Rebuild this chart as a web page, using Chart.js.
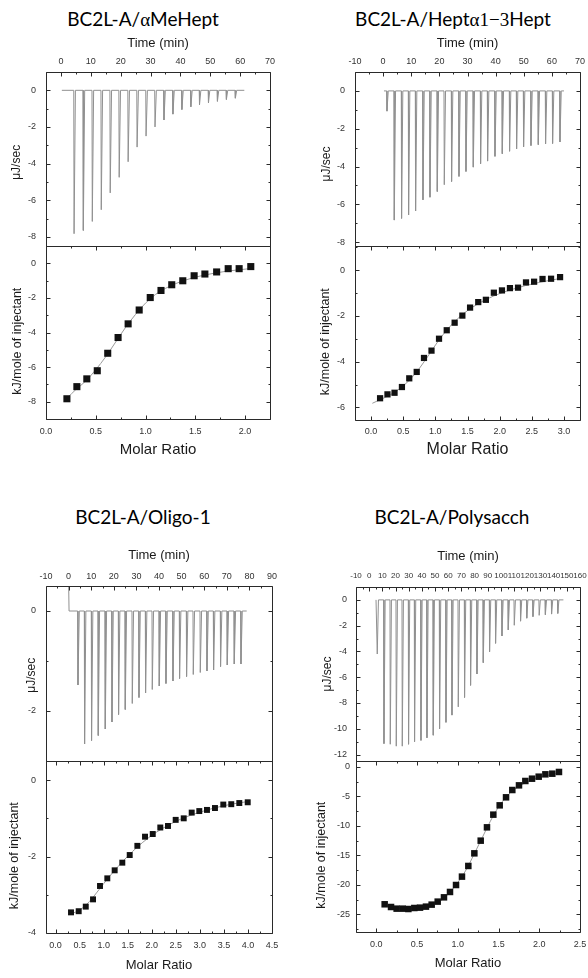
<!DOCTYPE html>
<html><head><meta charset="utf-8">
<script src="https://cdn.jsdelivr.net/npm/chart.js@4.4.1/dist/chart.umd.min.js"></script>
<style>
html,body{margin:0;padding:0;background:#fff;width:588px;height:978px;overflow:hidden;position:relative;}
canvas{position:absolute;}
.ttl{position:absolute;font-family:Lato,'Open Sans',sans-serif;font-size:19px;line-height:19px;color:#000;white-space:nowrap;transform:translateX(-50%);}
.ttl .g{font-family:'Liberation Serif','DejaVu Serif',serif;}
</style></head><body>
<div class="ttl" style="left:143px;top:8.5px">BC2L-A/<span class="g">α</span>MeHept</div>
<div class="ttl" style="left:453px;top:8.5px">BC2L-A/Hept<span class="g">α1−3</span>Hept</div>
<div class="ttl" style="left:143px;top:506.5px">BC2L-A/Oligo-1</div>
<div class="ttl" style="left:452px;top:506.5px">BC2L-A/Polysacch</div>
<script>
// ---------------- DATA ----------------
// Panel 1: BC2L-A / aMeHept
const p1TimeTicks = [0,10,20,30,40,50,60,70];
const p1HeatTicks = [0,-2,-4,-6,-8];
const p1RatioTicks = [0,0.5,1,1.5,2];
const p1EnthTicks = [0,-2,-4,-6,-8];
const p1Baseline = [0.3, 61.4];
const p1InjTime = [4.3,7.4,10.4,13.4,16.4,19.4,22.4,25.4,28.4,31.4,34.4,37.4,40.4,43.4,46.3,49.3,52.3,55.3,58.3];
const p1InjPeak = [-7.83,-7.65,-7.16,-6.52,-5.6,-4.75,-3.9,-3.1,-2.5,-2.0,-1.62,-1.3,-1.05,-0.9,-0.8,-0.68,-0.6,-0.5,-0.43];
const p1Ratio = [0.21,0.31,0.41,0.515,0.62,0.724,0.825,0.936,1.047,1.155,1.263,1.374,1.488,1.596,1.714,1.83,1.94,2.057];
const p1Enth = [-7.83,-7.13,-6.68,-6.21,-5.2,-4.29,-3.5,-2.7,-1.98,-1.57,-1.24,-1.01,-0.72,-0.62,-0.5,-0.31,-0.31,-0.19];
const p1FitRatio = [0.21,0.3,0.4,0.5,0.6,0.7,0.8,0.9,1.0,1.1,1.2,1.3,1.4,1.5,1.6,1.7,1.8,1.9,2.06];
const p1FitEnth = [-7.8,-7.3,-6.8,-6.15,-5.4,-4.55,-3.7,-2.95,-2.3,-1.8,-1.45,-1.18,-0.97,-0.8,-0.67,-0.56,-0.47,-0.4,-0.3];

// Panel 2: BC2L-A / Hepta1-3Hept
const p2TimeTicks = [-10,0,10,20,30,40,50,60,70];
const p2HeatTicks = [0,-2,-4,-6,-8];
const p2RatioTicks = [0,0.5,1,1.5,2,2.5,3];
const p2EnthTicks = [0,-2,-4,-6];
const p2Baseline = [0.3, 64.3];
const p2InjTime = [1.27,3.87,6.46,8.95,11.44,14.07,16.56,19.16,21.64,24.24,26.87,29.36,31.96,34.55,37.04,39.67,42.27,44.86,47.35,49.84,52.47,55.07,57.66,60.15,62.78];
const p2InjPeak = [-1.07,-6.83,-6.74,-6.56,-6.35,-5.76,-5.62,-5.32,-4.96,-4.79,-4.52,-4.26,-4.03,-3.85,-3.71,-3.46,-3.32,-3.19,-3.07,-2.96,-2.89,-2.84,-2.80,-2.78,-2.70];
const p2Ratio = [0.14,0.255,0.365,0.48,0.594,0.71,0.823,0.94,1.057,1.177,1.30,1.42,1.54,1.667,1.786,1.91,2.036,2.16,2.286,2.41,2.536,2.667,2.80,2.94];
const p2Enth = [-5.6,-5.43,-5.36,-5.11,-4.73,-4.45,-3.84,-3.52,-3.0,-2.63,-2.3,-1.99,-1.64,-1.40,-1.30,-0.99,-0.89,-0.79,-0.77,-0.54,-0.51,-0.39,-0.38,-0.31];
const p2FitRatio = [0.02,0.15,0.3,0.45,0.6,0.75,0.9,1.05,1.2,1.35,1.5,1.65,1.8,2.0,2.2,2.4,2.6,2.8,2.94];
const p2FitEnth = [-5.82,-5.65,-5.45,-5.17,-4.8,-4.3,-3.7,-3.08,-2.55,-2.12,-1.77,-1.5,-1.27,-1.03,-0.84,-0.68,-0.55,-0.44,-0.37];

// Panel 3: BC2L-A / Oligo-1
const p3TimeTicks = [-10,0,10,20,30,40,50,60,70,80,90];
const p3HeatTicks = [0,-2];
const p3RatioTicks = [0,0.5,1,1.5,2,2.5,3,3.5,4,4.5];
const p3EnthTicks = [0,-2,-4];
const p3Lead = [0, 0.6];
const p3Baseline = [0.2, 78.8];
const p3InjTime = [4.03,6.95,10.04,13.01,16.11,19.07,21.99,24.96,28.05,31.02,33.94,36.9,40.0,42.96,46.06,48.98,52.08,55.04,58.14,61.11,64.03,67.12,70.09,73.19,76.15];
const p3InjPeak = [-1.48,-2.66,-2.59,-2.49,-2.36,-2.22,-2.07,-1.97,-1.85,-1.73,-1.64,-1.57,-1.5,-1.45,-1.4,-1.35,-1.31,-1.27,-1.23,-1.2,-1.18,-1.11,-1.08,-1.06,-1.06];
const p3Ratio = [0.32,0.48,0.627,0.778,0.923,1.075,1.228,1.387,1.541,1.7,1.859,2.02,2.177,2.337,2.497,2.664,2.83,2.988,3.148,3.314,3.487,3.653,3.82,3.995];
const p3Enth = [-3.46,-3.43,-3.31,-3.12,-2.77,-2.57,-2.36,-2.16,-1.96,-1.72,-1.48,-1.41,-1.24,-1.2,-1.04,-1.0,-0.85,-0.81,-0.78,-0.73,-0.64,-0.63,-0.6,-0.58];
const p3FitRatio = [0.32,0.5,0.7,0.9,1.1,1.3,1.5,1.7,1.9,2.1,2.3,2.5,2.7,2.9,3.1,3.3,3.5,3.7,4.0];
const p3FitEnth = [-3.5,-3.4,-3.18,-2.87,-2.55,-2.26,-1.99,-1.75,-1.54,-1.36,-1.21,-1.08,-0.97,-0.88,-0.8,-0.73,-0.67,-0.62,-0.56];

// Panel 4: BC2L-A / Polysacch
const p4TimeTicks = [-10,0,10,20,30,40,50,60,70,80,90,100,110,120,130,140,150,160];
const p4HeatTicks = [0,-2,-4,-6,-8,-10,-12];
const p4RatioTicks = [0,0.5,1,1.5,2,2.5];
const p4EnthTicks = [0,-5,-10,-15,-20,-25];
const p4Baseline = [5.2, 147.4];
const p4InjTime = [5.93,11.02,15.8,20.35,24.91,29.69,34.24,39.1,43.66,48.44,53.22,58.08,62.63,67.41,72.19,76.75,81.6,86.39,91.17,95.72,100.58,105.36,109.91,114.69,119.4,124.1,128.81,133.52,138.22,142.93];
const p4InjPeak = [-4.2,-11.15,-11.2,-11.35,-11.35,-11.2,-11.0,-10.9,-10.7,-10.5,-10.0,-9.5,-8.94,-8.3,-7.57,-6.63,-5.75,-4.87,-4.02,-3.37,-2.8,-2.33,-1.97,-1.65,-1.42,-1.3,-1.2,-1.15,-1.1,-1.05];
const p4Ratio = [0.102,0.18,0.249,0.323,0.393,0.466,0.536,0.609,0.679,0.753,0.83,0.904,0.978,1.051,1.129,1.203,1.281,1.358,1.436,1.514,1.592,1.669,1.751,1.829,1.911,1.993,2.075,2.16,2.242];
const p4Enth = [-23.3,-23.76,-24.04,-24.04,-24.1,-23.93,-23.87,-23.7,-23.36,-22.85,-22.12,-21.21,-20.03,-18.61,-16.8,-14.66,-12.51,-10.25,-8.1,-6.52,-5.16,-3.92,-3.13,-2.39,-2.0,-1.66,-1.26,-1.15,-0.86];
const p4FitRatio = [0.1,0.2,0.3,0.4,0.5,0.6,0.7,0.8,0.9,1.0,1.1,1.2,1.3,1.4,1.5,1.6,1.7,1.8,1.9,2.0,2.1,2.24];
const p4FitEnth = [-23.4,-23.8,-24.0,-24.05,-23.9,-23.7,-23.3,-22.6,-21.3,-19.6,-17.5,-14.8,-12.0,-9.2,-6.8,-5.0,-3.75,-2.9,-2.25,-1.8,-1.45,-1.05];

// ---------------- HELPERS ----------------
const FONT = "'Liberation Sans', Arial, sans-serif";
const pts = (xs, ys) => xs.map((x, i) => ({x: x, y: ys[i]}));
function thermogram(base, times, peaks, down, up, lead) {
  const out = [];
  if (lead) out.push({x: lead[0], y: lead[1]});
  out.push({x: base[0], y: 0});
  times.forEach((t, i) => {
    out.push({x: t, y: 0}, {x: t + down, y: peaks[i]}, {x: t + up, y: 0});
  });
  out.push({x: base[1], y: 0});
  return out;
}
const rawSet = (data) => ({type:'line', data, borderColor:'#909090', borderWidth:1, pointRadius:0, tension:0, order:1});
const dotSet = (data, r) => ({type:'line', data, showLine:false, pointStyle:'rect', pointRadius:r, pointBackgroundColor:'#111', pointBorderWidth:0, order:0});
const fitSet = (data) => ({type:'line', data, borderColor:'#9a9a9a', borderWidth:1, pointRadius:0, cubicInterpolationMode:'monotone', order:1});

const framePlugin = {
  id: 'itcFrame',
  afterDatasetsDraw(chart, args, o) {
    const {ctx, chartArea: a} = chart;
    const xs = chart.scales.x, ys = chart.scales.y;
    const L = Math.round(a.left) + 0.5, R = Math.round(a.right) + 0.5;
    const T = Math.round(a.top) + 0.5, B = Math.round(a.bottom) + 0.5;
    ctx.save();
    ctx.strokeStyle = '#2a2a2a';
    ctx.lineWidth = 1;
    ctx.beginPath();
    ctx.rect(L, T, R - L, B - T);
    const seg = (x1, y1, x2, y2) => { ctx.moveTo(x1, y1); ctx.lineTo(x2, y2); };
    const axis = (sc, step, horiz) => {
      const majors = sc.ticks.map(t => t.value);
      const i0 = Math.ceil(sc.min / step - 1e-6), i1 = Math.floor(sc.max / step + 1e-6);
      for (let i = i0; i <= i1; i++) {
        const v = i * step;
        const isMaj = majors.some(m => Math.abs(m - v) < step * 1e-3);
        const len = isMaj ? 4 : 2;
        const p = Math.round(sc.getPixelForValue(v)) + 0.5;
        if (horiz) {
          if (o.top) seg(p, T, p, T + len);
          if (o.bottom) seg(p, B, p, B - len);
        } else {
          seg(L, p, L + len, p);
          seg(R, p, R - len, p);
        }
      }
    };
    axis(xs, o.xMinor, true);
    axis(ys, o.yMinor, false);
    ctx.stroke();
    ctx.restore();
  }
};

function makePlot(s) {
  const cv = document.createElement('canvas');
  const w = s.box[2] - s.box[0], h = s.box[3] - s.box[1];
  cv.width = w; cv.height = h;
  cv.style.left = s.box[0] + 'px'; cv.style.top = s.box[1] + 'px';
  cv.style.width = w + 'px'; cv.style.height = h + 'px';
  document.body.appendChild(cv);
  const [L, T, R, B] = s.area;
  const xTop = s.xPos === 'top';
  const yW = L - s.box[0];
  const xH = xTop ? T - s.box[1] : s.box[3] - B;
  const xLh = s.xTitleSize * 1.2, yLh = s.yTitleSize * 1.2;
  const xTitlePad = xTop ? (s.xTitleY - s.box[1] - xLh / 2) : (s.box[3] - s.xTitleY - xLh / 2);
  const yTitlePad = s.yTitleX - s.box[0] - yLh / 2;
  return new Chart(cv, {
    type: 'line',
    data: {datasets: s.datasets},
    options: {
      responsive: false, animation: false, events: [],
      layout: {padding: {left: 0, right: s.box[2] - R, top: xTop ? 0 : T - s.box[1], bottom: xTop ? s.box[3] - B : 0}},
      plugins: {legend: {display: false}, tooltip: {enabled: false},
        itcFrame: {xMinor: s.xMinor, yMinor: s.yMinor, top: true, bottom: !xTop}},
      scales: {
        x: {type: 'linear', position: s.xPos, min: s.xr[0], max: s.xr[1], bounds: 'data',
          afterBuildTicks: sc => { sc.ticks = s.xTicks.map(v => ({value: v})); },
          afterFit: sc => { sc.height = xH; },
          grid: {display: false, drawTicks: false}, border: {display: false},
          ticks: {autoSkip: false, maxRotation: 0, minRotation: 0, padding: s.xTickPad, color: '#333',
            font: {family: FONT, size: s.xTickSize}, callback: s.xFmt},
          title: {display: true, text: s.xTitle, color: '#1a1a1a', font: {family: FONT, size: s.xTitleSize},
            padding: xTop ? {top: xTitlePad, bottom: 0} : {top: 0, bottom: xTitlePad}}},
        y: {type: 'linear', position: 'left', min: s.yr[0], max: s.yr[1], bounds: 'data',
          afterBuildTicks: sc => { sc.ticks = s.yTicks.map(v => ({value: v})); },
          afterFit: sc => { sc.width = yW; },
          grid: {display: false, drawTicks: false}, border: {display: false},
          ticks: {autoSkip: false, padding: s.yTickPad, color: '#333',
            font: {family: FONT, size: s.yTickSize}, callback: v => String(v)},
          title: {display: true, text: s.yTitle, color: '#1a1a1a', font: {family: FONT, size: s.yTitleSize},
            padding: {top: yTitlePad, bottom: 0}}}
      }
    },
    plugins: [framePlugin]
  });
}
const intFmt = v => String(v);
const decFmt = v => v.toFixed(1);
const UJ = 'μJ/sec', KJ = 'kJ/mole of injectant';

// ---------------- PLOTS ----------------
makePlot({box:[0,28,294,264], area:[46,72,270,246], xPos:'top', xr:[-5,70], yr:[-8.5,1],
  xTicks:p1TimeTicks, yTicks:p1HeatTicks, xMinor:5, yMinor:1, xFmt:intFmt,
  xTitle:'Time (min)', xTitleSize:13, xTitleY:43, xTickPad:5, xTickSize:9,
  yTitle:UJ + '  ', yTitleSize:12, yTitleX:17, yTickPad:10, yTickSize:9,
  datasets:[rawSet(thermogram(p1Baseline, p1InjTime, p1InjPeak, 0.1, 0.55))]});
makePlot({box:[0,228,294,461], area:[46,246,270,419], xPos:'bottom', xr:[0,2.25], yr:[-9,1],
  xTicks:p1RatioTicks, yTicks:p1EnthTicks, xMinor:0.25, yMinor:1, xFmt:decFmt,
  xTitle:'Molar Ratio', xTitleSize:15, xTitleY:450, xTickPad:7.5, xTickSize:9,
  yTitle:KJ + '     ', yTitleSize:12.5, yTitleX:17.5, yTickPad:10, yTickSize:9,
  datasets:[dotSet(pts(p1Ratio, p1Enth), 5), fitSet(pts(p1FitRatio, p1FitEnth))]});

makePlot({box:[294,28,610,264], area:[355,72,580,246], xPos:'top', xr:[-10,70], yr:[-8.2,1],
  xTicks:p2TimeTicks, yTicks:p2HeatTicks, xMinor:5, yMinor:1, xFmt:intFmt,
  xTitle:'Time (min)', xTitleSize:13, xTitleY:43, xTickPad:5, xTickSize:9,
  yTitle:UJ + '   ', yTitleSize:12, yTitleX:326.8, yTickPad:10, yTickSize:9,
  datasets:[rawSet(thermogram(p2Baseline, p2InjTime, p2InjPeak, 0.1, 0.55))]});
makePlot({box:[294,228,610,462], area:[355,246,580,420], xPos:'bottom', xr:[-0.25,3.25], yr:[-6.55,1.05],
  xTicks:p2RatioTicks, yTicks:p2EnthTicks, xMinor:0.25, yMinor:1, xFmt:decFmt,
  xTitle:'Molar Ratio', xTitleSize:16, xTitleY:450, xTickPad:6.5, xTickSize:9,
  yTitle:KJ + '     ', yTitleSize:12.5, yTitleX:325.3, yTickPad:10, yTickSize:9,
  datasets:[dotSet(pts(p2Ratio, p2Enth), 4.4), fitSet(pts(p2FitRatio, p2FitEnth))]});

makePlot({box:[0,540,294,779], area:[46,586,272,761], xPos:'top', xr:[-10,90], yr:[-3,0.5],
  xTicks:p3TimeTicks, yTicks:p3HeatTicks, xMinor:5, yMinor:1, xFmt:intFmt,
  xTitle:'Time (min)', xTitleSize:13, xTitleY:555, xTickPad:4, xTickSize:9,
  yTitle:UJ + ' ', yTitleSize:12, yTitleX:31.7, yTickPad:10, yTickSize:9,
  datasets:[rawSet(thermogram(p3Baseline, p3InjTime, p3InjPeak, 0.12, 0.7, p3Lead))]});
makePlot({box:[0,743,294,975], area:[46,761,272,933], xPos:'bottom', xr:[-0.2,4.5], yr:[-4,0.5],
  xTicks:p3RatioTicks, yTicks:p3EnthTicks, xMinor:0.25, yMinor:1, xFmt:decFmt,
  xTitle:'Molar Ratio', xTitleSize:13, xTitleY:965, xTickPad:7.5, xTickSize:9,
  yTitle:KJ + '     ', yTitleSize:12.5, yTitleX:14.5, yTickPad:10, yTickSize:9,
  datasets:[dotSet(pts(p3Ratio, p3Enth), 4.2), fitSet(pts(p3FitRatio, p3FitEnth))]});

makePlot({box:[294,540,610,779], area:[356,587,580,761], xPos:'top', xr:[-10,160], yr:[-12.5,1],
  xTicks:p4TimeTicks, yTicks:p4HeatTicks, xMinor:5, yMinor:1, xFmt:intFmt,
  xTitle:'Time (min)', xTitleSize:13, xTitleY:556.7, xTickPad:6, xTickSize:8,
  yTitle:UJ, yTitleSize:12, yTitleX:327.7, yTickPad:9, yTickSize:9,
  datasets:[rawSet(thermogram(p4Baseline, p4InjTime, p4InjPeak, 0.2, 1.1))]});
makePlot({box:[294,743,610,973], area:[356,761,580,932], xPos:'bottom', xr:[-0.25,2.5], yr:[-28,1],
  xTicks:p4RatioTicks, yTicks:p4EnthTicks, xMinor:0.25, yMinor:2.5, xFmt:decFmt,
  xTitle:'Molar Ratio', xTitleSize:13, xTitleY:963.3, xTickPad:7.5, xTickSize:9,
  yTitle:KJ + '     ', yTitleSize:12.5, yTitleX:321.2, yTickPad:6, yTickSize:9,
  datasets:[dotSet(pts(p4Ratio, p4Enth), 4.6), fitSet(pts(p4FitRatio, p4FitEnth))]});
</script>
</body></html>
